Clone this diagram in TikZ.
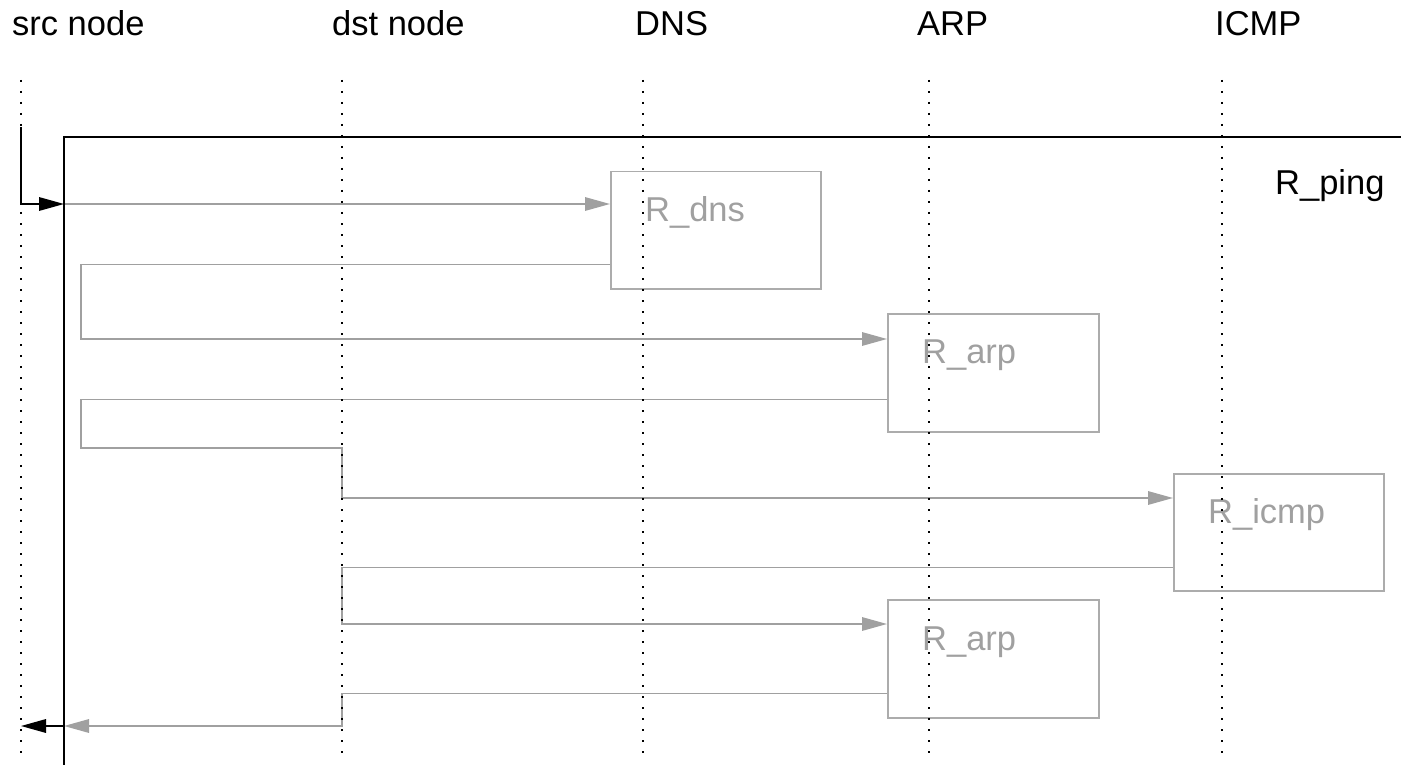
\documentclass[tikz,border=0pt]{standalone}
\usepackage{fontspec}
\setmainfont{Liberation Sans}
\usetikzlibrary{arrows.meta}
\definecolor{callgray}{RGB}{160,160,160}
\definecolor{boxgray}{RGB}{172,172,172}
\begin{document}
\begin{tikzpicture}[x=1pt,y=-1pt,
  head/.style={font=\fontsize{34.5}{40}\selectfont, anchor=base west, inner sep=0pt},
  lifeline/.style={black, line width=1.3pt, dash pattern=on 1.6pt off 9.4pt},
  frameline/.style={black, line width=1.7pt},
  call/.style={callgray, line width=1.6pt},
  tip/.style={-{Triangle[length=25pt,width=13.5pt]}},
  region/.style={draw=boxgray, line width=1.5pt, rectangle, inner sep=0pt,
    anchor=north west, minimum width=210pt, minimum height=117pt},
  rlabel/.style={font=\fontsize{34.5}{40}\selectfont, text=callgray,
    anchor=base west, inner sep=0pt}]
\useasboundingbox (0,0) rectangle (1401,765);

% column headings
\node[head] (hsrc)  at (12,36)   {src node};
\node[head] (hdst)  at (332,36)  {dst node};
\node[head] (hdns)  at (635,36)  {DNS};
\node[head] (harp)  at (917,36)  {ARP};
\node[head] (hicmp) at (1215,36) {ICMP};

% lifeline anchors
\coordinate (src)  at (21,80);
\coordinate (dst)  at (342,80);
\coordinate (dns)  at (643,80);
\coordinate (arp)  at (929,80);
\coordinate (icmp) at (1222,80);

% nested regions
\node[region] (rdns)  at (610,171) {};
\node[region, minimum width=211pt, minimum height=118pt] (rarpa) at (887,313) {};
\node[region] (ricmp) at (1173,473) {};
\node[region, minimum width=211pt, minimum height=118pt] (rarpb) at (887,599) {};

\node[rlabel] (ldns)  at ([xshift=35pt,yshift=-51pt]rdns.north west)  {R\_dns};
\node[rlabel] (larpa) at ([xshift=35pt,yshift=-50pt]rarpa.north west) {R\_arp};
\node[rlabel] (licmp) at ([xshift=35pt,yshift=-50pt]ricmp.north west) {R\_icmp};
\node[rlabel] (larpb) at ([xshift=35pt,yshift=-51pt]rarpb.north west) {R\_arp};
\node[head]   (lping) at (1275,195) {R\_ping};

% outer frame
\coordinate (fbot) at (64,765);
\coordinate (fcor) at (64,137);
\coordinate (frgt) at (1401,137);
\coordinate (s0) at (21,127);
\coordinate (s1) at (64,204);
\coordinate (e0) at (64,726);
\coordinate (e1) at (21,726);

% message flow
\draw[call, tip] (s1) -- (s1 -| rdns.west);
\draw[call, tip] ([yshift=25pt]rdns.south west) -- ++(-529,0)
  |- ([yshift=-26pt]rarpa.north west);
\draw[call, tip] ([yshift=33pt]rarpa.south west) -- ++(-806,0)
  |- (dst |- 0,448) |- ([yshift=-25pt]ricmp.north west);
\draw[call, tip] ([yshift=24pt]ricmp.south west) -| (dst |- 0,624)
  -- ([yshift=-25pt]rarpb.north west);
\draw[call, tip] ([yshift=25pt]rarpb.south west) -| (dst |- 0,726) -- (e0);

% frame and external call
\draw[frameline] (fbot) -- (fcor) -- (frgt);
\draw[frameline, tip] (s0) |- (s1);
\draw[frameline, tip] (e0) -- (e1);

% lifelines
\foreach \c in {src,dst,dns,arp,icmp}
  \draw[lifeline] (\c) -- (\c |- 0,760);
\end{tikzpicture}
\end{document}
